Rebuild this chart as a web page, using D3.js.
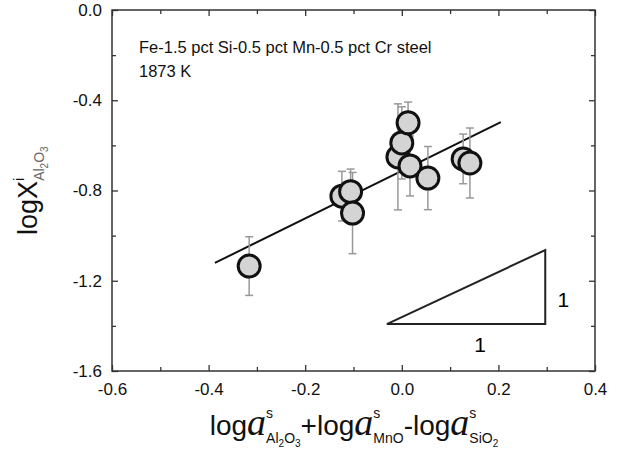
<!DOCTYPE html>
<html>
<head>
<meta charset="utf-8">
<script src="https://cdn.jsdelivr.net/npm/d3@7"></script>
<style>
  body { margin: 0; background: #fff; }
  svg { font-family: Arial, "Liberation Sans", sans-serif; }
</style>
</head>
<body>
<svg id="chart" width="630" height="456"></svg>
<script>
// data
const xVals = [-0.316, -0.124, -0.106, -0.102, -0.008, 0.000, 0.013, 0.017, 0.054, 0.127, 0.141];
const yVals = [-1.135, -0.825, -0.805, -0.900, -0.651, -0.589, -0.500, -0.691, -0.745, -0.660, -0.678];
const yErr  = [0.13, 0.11, 0.10, 0.18, 0.235, 0.16, 0.092, 0.133, 0.14, 0.11, 0.155];
// fitted line end points
const fitX = [-0.387, 0.205];
const fitY = [-1.121, -0.497];
// slope triangle corners (x, y)
const triX = [-0.031, 0.297, 0.297];
const triY = [-1.392, -1.392, -1.064];
const xTicks = [-0.6, -0.4, -0.2, 0.0, 0.2, 0.4];
const yTicks = [0.0, -0.4, -0.8, -1.2, -1.6];
const xMinor = [-0.5, -0.3, -0.1, 0.1, 0.3];
const yMinor = [-0.2, -0.6, -1.0, -1.4];

const svg = d3.select("#chart");
const pLeft = 112, pRight = 595, pTop = 10, pBottom = 371;

const x = d3.scaleLinear().domain([-0.6, 0.4]).range([pLeft, pRight]);
const y = d3.scaleLinear().domain([-1.6, 0.0]).range([pBottom, pTop]);

// plain hyphen minus like the original
const fmt = d => d3.format(".1f")(d).replace("\u2212", "-");

// ticks, inward on all sides
const tickLen = 6, minorLen = 4;
const axisB = d3.axisBottom(x).tickValues(xTicks).tickSize(-tickLen).tickPadding(tickLen + 6).tickFormat(fmt);
const axisL = d3.axisLeft(y).tickValues(yTicks).tickSize(-tickLen).tickPadding(tickLen + 4).tickFormat(fmt);

const gB = svg.append("g").attr("transform", "translate(0," + pBottom + ")").call(axisB);
const gL = svg.append("g").attr("transform", "translate(" + pLeft + ",0)").call(axisL);
svg.append("g").attr("transform", "translate(0," + pTop + ")")
  .call(d3.axisTop(x).tickValues(xTicks).tickSize(-tickLen).tickFormat(""));
svg.append("g").attr("transform", "translate(" + pRight + ",0)")
  .call(d3.axisRight(y).tickValues(yTicks).tickSize(-tickLen).tickFormat(""));

// minor ticks
svg.append("g").attr("transform", "translate(0," + pBottom + ")")
  .call(d3.axisBottom(x).tickValues(xMinor).tickSize(-minorLen).tickFormat(""));
svg.append("g").attr("transform", "translate(0," + pTop + ")")
  .call(d3.axisTop(x).tickValues(xMinor).tickSize(-minorLen).tickFormat(""));
svg.append("g").attr("transform", "translate(" + pLeft + ",0)")
  .call(d3.axisLeft(y).tickValues(yMinor).tickSize(-minorLen).tickFormat(""));
svg.append("g").attr("transform", "translate(" + pRight + ",0)")
  .call(d3.axisRight(y).tickValues(yMinor).tickSize(-minorLen).tickFormat(""));

svg.selectAll(".domain").remove();
svg.selectAll(".tick line").attr("stroke", "#333").attr("stroke-width", 1.3);
svg.selectAll(".tick text").attr("font-size", 17).attr("fill", "#111")
  .attr("font-family", "Arial, 'Liberation Sans', sans-serif");
gB.selectAll(".tick text").attr("dy", "0.71em");

// frame
svg.append("rect")
  .attr("x", pLeft).attr("y", pTop)
  .attr("width", pRight - pLeft).attr("height", pBottom - pTop)
  .attr("fill", "none").attr("stroke", "#333").attr("stroke-width", 1.5);

// annotation
svg.append("text").attr("x", 139).attr("y", 53).attr("font-size", 16.5).attr("fill", "#111")
  .text("Fe-1.5 pct Si-0.5 pct Mn-0.5 pct Cr steel");
svg.append("text").attr("x", 139).attr("y", 77).attr("font-size", 16.5).attr("fill", "#111")
  .text("1873 K");

// fitted line
svg.append("line")
  .attr("x1", x(fitX[0])).attr("y1", y(fitY[0]))
  .attr("x2", x(fitX[1])).attr("y2", y(fitY[1]))
  .attr("stroke", "#111").attr("stroke-width", 2);

// error bars
const pts = xVals.map((v, i) => ({x: v, y: yVals[i], e: yErr[i]}));
const eb = svg.append("g").attr("stroke", "#999").attr("stroke-width", 1.5);
pts.forEach(d => {
  eb.append("line").attr("x1", x(d.x)).attr("x2", x(d.x))
    .attr("y1", y(d.y - d.e)).attr("y2", y(d.y + d.e));
  [d.y - d.e, d.y + d.e].forEach(v => {
    eb.append("line").attr("x1", x(d.x) - 4).attr("x2", x(d.x) + 4)
      .attr("y1", y(v)).attr("y2", y(v));
  });
});

// points
svg.append("g").selectAll("circle")
  .data(pts)
  .enter().append("circle")
    .attr("cx", d => x(d.x))
    .attr("cy", d => y(d.y))
    .attr("r", 11)
    .attr("fill", "#d4d4d4")
    .attr("stroke", "#111")
    .attr("stroke-width", 3);

// slope triangle
svg.append("path")
  .attr("d", d3.line()(triX.map((v, i) => [x(v), y(triY[i])])) + "Z")
  .attr("fill", "none").attr("stroke", "#222").attr("stroke-width", 2);
svg.append("text").attr("x", x(triX[2]) + 18).attr("y", 307)
  .attr("font-size", 21).attr("text-anchor", "middle").text("1");
svg.append("text").attr("x", 480).attr("y", y(triY[0]) + 28)
  .attr("font-size", 21).attr("text-anchor", "middle").text("1");

// y axis title
const yt = svg.append("text")
  .attr("transform", "translate(37,235) rotate(-90)")
  .attr("font-size", 27).attr("fill", "#111");
yt.append("tspan").text("logX");
yt.append("tspan").attr("font-size", 14).attr("dy", -13).text("i");
yt.append("tspan").attr("font-size", 14).attr("dx", -3).attr("dy", 20).attr("fill", "#666").text("Al");
yt.append("tspan").attr("font-size", 10).attr("dy", 4).attr("fill", "#666").text("2");
yt.append("tspan").attr("font-size", 14).attr("dy", -4).attr("fill", "#666").text("O");
yt.append("tspan").attr("font-size", 10).attr("dy", 4).attr("fill", "#666").text("3");

// x axis title
const xt = svg.append("text").attr("x", 354).attr("y", 435)
  .attr("text-anchor", "middle")
  .attr("font-size", 28).attr("fill", "#111");
const serifA = "'Liberation Serif', 'Times New Roman', serif";
function aTerm(prefix, dyIn) {
  xt.append("tspan").attr("dy", dyIn).text(prefix);
  xt.append("tspan").attr("font-family", serifA).attr("font-style", "italic").attr("font-size", 38).text("a");
  xt.append("tspan").attr("font-size", 14).attr("dy", -17).text("s");
}
aTerm("log", 0);
xt.append("tspan").attr("font-size", 14).attr("dx", -7).attr("dy", 25).text("Al");
xt.append("tspan").attr("font-size", 10).attr("dy", 4).text("2");
xt.append("tspan").attr("font-size", 14).attr("dy", -4).text("O");
xt.append("tspan").attr("font-size", 10).attr("dy", 4).text("3");
aTerm("+log", -12);
xt.append("tspan").attr("font-size", 14).attr("dx", -7).attr("dy", 25).text("MnO");
aTerm("-log", -8);
xt.append("tspan").attr("font-size", 14).attr("dx", -7).attr("dy", 25).text("SiO");
xt.append("tspan").attr("font-size", 10).attr("dy", 4).text("2");
</script>
</body>
</html>
